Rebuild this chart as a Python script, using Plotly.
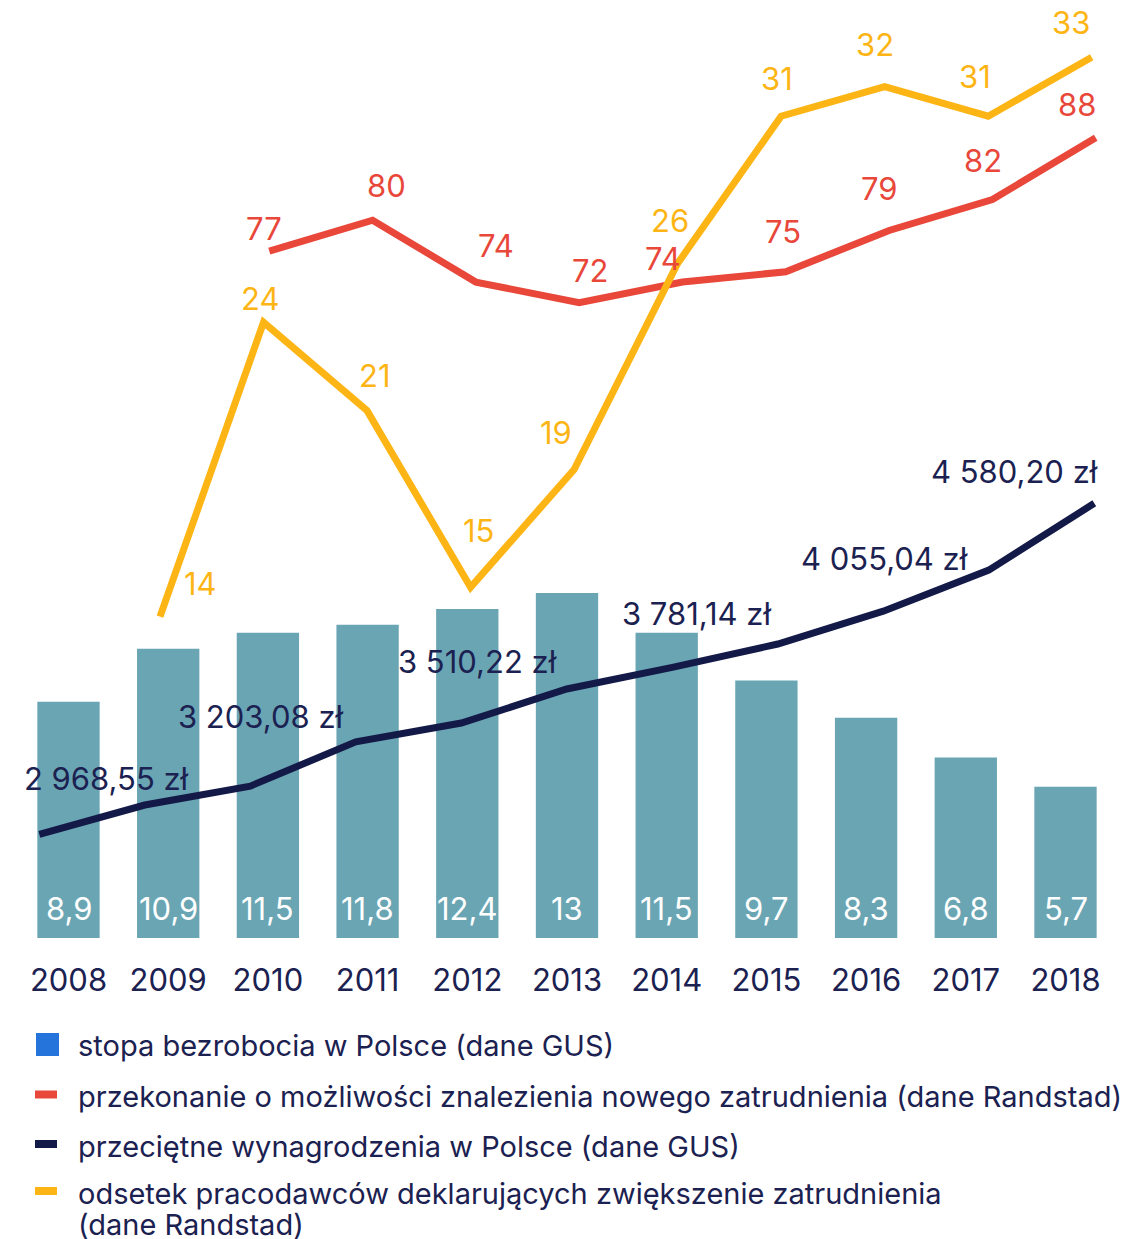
import plotly.graph_objects as go

# --- data ---------------------------------------------------------------
years = ["2008", "2009", "2010", "2011", "2012", "2013", "2014", "2015", "2016", "2017", "2018"]
unemployment = [8.9, 10.9, 11.5, 11.8, 12.4, 13, 11.5, 9.7, 8.3, 6.8, 5.7]

wage_years = [2008, 2009, 2010, 2011, 2012, 2013, 2014, 2015, 2016, 2017, 2018]
wage = [2968.55, 3111, 3203.08, 3419, 3510.22, 3676, 3781.14, 3895, 4055.04, 4255, 4580.20]
wage_labeled = [2008, 2010, 2012, 2014, 2016, 2018]

belief_years = [2010, 2011, 2012, 2013, 2014, 2015, 2016, 2017, 2018]
belief = [77, 80, 74, 72, 74, 75, 79, 82, 88]

hiring_years = [2009, 2010, 2011, 2012, 2013, 2014, 2015, 2016, 2017, 2018]
hiring = [14, 24, 21, 15, 19, 26, 31, 32, 31, 33]

legend_names = [
    ["stopa bezrobocia w Polsce (dane GUS)"],
    ["przekonanie o możliwości znalezienia nowego zatrudnienia (dane Randstad)"],
    ["przeciętne wynagrodzenia w Polsce (dane GUS)"],
    ["odsetek pracodawców deklarujących zwiększenie zatrudnienia", "(dane Randstad)"],
]

# label offsets in pixels (dx, dy up)
belief_off = [(-5, 23), (14, 35), (20, 37), (11, 32), (-20, 24), (-3, 40), (-10, 42), (-9, 39), (-19, 33)]
hiring_off = [(40, 33), (-4, 24), (8, 35), (8, 57), (-18, 37), (-8, 43), (-4, 38), (-10, 42), (-13, 40), (-21, 35)]
wage_off = {2008: (67, 56), 2010: (10, 70), 2012: (16, 62), 2014: (24, 54), 2016: (1, 53), 2018: (-80, 32)}

# --- style --------------------------------------------------------------
FONT = "Inter"
NAVY = "#141a48"
TEXT = "#1b2150"
TEAL = "#6aa5b4"
RED = "#e8473a"
YELLOW = "#fdb515"
BLUE = "#2574db"

OFF = 8                      # page body margin
W, H = 1145 - OFF, 1239 - OFF
TOP, BASE = 8, 938           # page y of plot top and bar baseline
LEFT, RIGHT = 8, 1145        # page x of plot area


def span(v0, p0, v1, p1, a, b):
    """axis range so that value v0 sits at page pixel p0 and v1 at p1"""
    k = (v1 - v0) / (p1 - p0)
    return [v0 + (a - p0) * k, v0 + (b - p0) * k]


def fmt_pl(v, dec=1):
    return f"{v:,.{dec}f}".replace(",", " ").replace(".", ",")


def py2paper(py):
    return (BASE - py) / (BASE - TOP)


def px2paper(px):
    return (px - LEFT) / (RIGHT - LEFT)


fig = go.Figure()

fig.add_trace(go.Bar(
    x=years, y=unemployment, width=0.625, marker_color=TEAL,
    marker_line_width=0, xaxis="x", yaxis="y", showlegend=False,
))
fig.add_trace(go.Scatter(
    x=wage_years, y=wage, mode="lines", line=dict(color=NAVY, width=7),
    xaxis="x2", yaxis="y2", showlegend=False,
))
fig.add_trace(go.Scatter(
    x=belief_years, y=belief, mode="lines", line=dict(color=RED, width=7),
    xaxis="x3", yaxis="y3", showlegend=False,
))
fig.add_trace(go.Scatter(
    x=hiring_years, y=hiring, mode="lines", line=dict(color=YELLOW, width=7),
    xaxis="x4", yaxis="y4", showlegend=False,
))

ann = []
for i, v in enumerate(unemployment):
    txt = f"{v:g}".replace(".", ",")
    ann.append(dict(x=i, y=0, xref="x", yref="y", text=txt, showarrow=False,
                    yshift=30, font=dict(color="white", size=31, family=FONT)))
for yr, v in zip(wage_years, wage):
    if yr in wage_labeled:
        dx, dy = wage_off[yr]
        ann.append(dict(x=yr, y=v, xref="x2", yref="y2", text=fmt_pl(v, 2) + " zł",
                        showarrow=False, xshift=dx, yshift=dy,
                        font=dict(color=TEXT, size=31, family=FONT)))
for yr, v, (dx, dy) in zip(belief_years, belief, belief_off):
    ann.append(dict(x=yr, y=v, xref="x3", yref="y3", text=str(v), showarrow=False,
                    xshift=dx, yshift=dy, font=dict(color=RED, size=31, family=FONT)))
for yr, v, (dx, dy) in zip(hiring_years, hiring, hiring_off):
    ann.append(dict(x=yr, y=v, xref="x4", yref="y4", text=str(v), showarrow=False,
                    xshift=dx, yshift=dy, font=dict(color=YELLOW, size=31, family=FONT)))

# legend (manual, below the chart)
leg_rows = [1045.5, 1096.5, 1146, 1193]
leg_colors = [BLUE, RED, NAVY, YELLOW]
shapes = []
for i, (lines, py, col) in enumerate(zip(legend_names, leg_rows, leg_colors)):
    for j, line in enumerate(lines):
        ann.append(dict(x=px2paper(76), y=py2paper(py + 31 * j),
                        xref="paper", yref="paper", text=line, showarrow=False,
                        xanchor="left", yanchor="middle",
                        font=dict(color=TEXT, size=29, family=FONT)))
    if i == 0:
        x0, x1, y0, y1 = 36, 59, 1033, 1056
    else:
        x0, x1, y0, y1 = 35, 57, py - 6, py + 2
    shapes.append(dict(type="rect", xref="paper", yref="paper",
                       x0=px2paper(x0), x1=px2paper(x1),
                       y0=py2paper(y1), y1=py2paper(y0), fillcolor=col, line_width=0))

hidden = dict(visible=False, fixedrange=True)
fig.update_layout(
    width=W, height=H,
    margin=dict(l=0, r=0, t=0, b=H - (BASE - OFF)),
    paper_bgcolor="white", plot_bgcolor="rgba(0,0,0,0)",
    font=dict(family=FONT, color=TEXT),
    xaxis=dict(type="category", range=span(0, 68.5, 10, 1065.5, LEFT, RIGHT),
               showgrid=False, zeroline=False, showline=False, ticks="",
               tickfont=dict(size=31, color=TEXT, family=FONT), ticklabelstandoff=21),
    yaxis=dict(range=span(0, 938, 13, 593, BASE, TOP), visible=False),
    xaxis2=dict(range=span(2008, 39.3, 2018, 1094.3, LEFT, RIGHT), overlaying="x", **hidden),
    yaxis2=dict(range=span(2968.55, 834.3, 4580.20, 503.3, BASE, TOP), overlaying="y", **hidden),
    xaxis3=dict(range=span(2010, 269.3, 2018, 1095.7, LEFT, RIGHT), overlaying="x", **hidden),
    yaxis3=dict(range=span(72, 302.7, 88, 137.7, BASE, TOP), overlaying="y", **hidden),
    xaxis4=dict(range=span(2009, 160, 2018, 1091.7, LEFT, RIGHT), overlaying="x", **hidden),
    yaxis4=dict(range=span(14, 616.7, 33, 57.3, BASE, TOP), overlaying="y", **hidden),
    annotations=ann, shapes=shapes,
)

fig.write_html("out.html")
